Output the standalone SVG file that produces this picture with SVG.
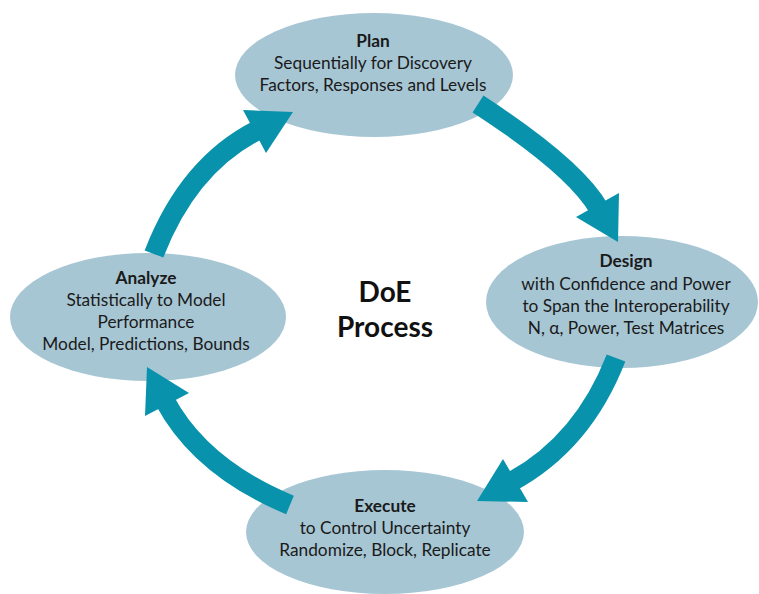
<svg xmlns="http://www.w3.org/2000/svg" width="759" height="594" viewBox="0 0 759 594">
<style>
.node{fill:#a7c6d4}
.t{font-family:Lato,"Liberation Sans",sans-serif;font-size:17.3px;fill:#1a1a1a;text-anchor:middle}
.b{font-weight:bold}
.big{font-family:Lato,"Liberation Sans",sans-serif;font-size:28px;font-weight:bold;fill:#111;text-anchor:middle}
.shaft{fill:none;stroke:#0892ab;stroke-width:20;stroke-linecap:butt}
.head{fill:#0892ab}
</style>
<rect width="759" height="594" fill="#fff"/>
<g id="plan">
<ellipse class="node" cx="374" cy="75" rx="139" ry="62"/>
<text class="t b" x="373" y="47">Plan</text>
<text class="t" x="373" y="69">Sequentially for Discovery</text>
<text class="t" x="373" y="91">Factors, Responses and Levels</text>
</g>
<g id="design">
<ellipse class="node" cx="622" cy="302" rx="136" ry="66"/>
<text class="t b" x="626" y="267">Design</text>
<text class="t" x="626" y="290">with Confidence and Power</text>
<text class="t" x="626" y="312">to Span the Interoperability</text>
<text class="t" x="626" y="334">N, α, Power, Test Matrices</text>
</g>
<g id="execute">
<ellipse class="node" cx="385" cy="532" rx="139" ry="62"/>
<text class="t b" x="385" y="512">Execute</text>
<text class="t" x="385" y="534">to Control Uncertainty</text>
<text class="t" x="385" y="556">Randomize, Block, Replicate</text>
</g>
<g id="analyze">
<ellipse class="node" cx="148" cy="317" rx="138" ry="64"/>
<text class="t b" x="146" y="284">Analyze</text>
<text class="t" x="146" y="306">Statistically to Model</text>
<text class="t" x="146" y="328">Performance</text>
<text class="t" x="146" y="350">Model, Predictions, Bounds</text>
</g>
<g id="center">
<text class="big" x="385" y="302">DoE</text>
<text class="big" x="385" y="337">Process</text>
</g>
<g id="connectors">
<path class="shaft" d="M478,104 Q575,167 599,209"/>
<polygon class="head" points="576,217 619,193 618,242"/>
<path class="shaft" d="M616,358 Q583,443 511,482"/>
<polygon class="head" points="503,459 528,502 477,501"/>
<path class="shaft" d="M290,505 Q201,468 165,401"/>
<polygon class="head" points="189,393 145,416 147,367"/>
<path class="shaft" d="M154,254 Q188.5,165 258,130"/>
<polygon class="head" points="243,110 266,153 293,112"/>
</g>
</svg>
